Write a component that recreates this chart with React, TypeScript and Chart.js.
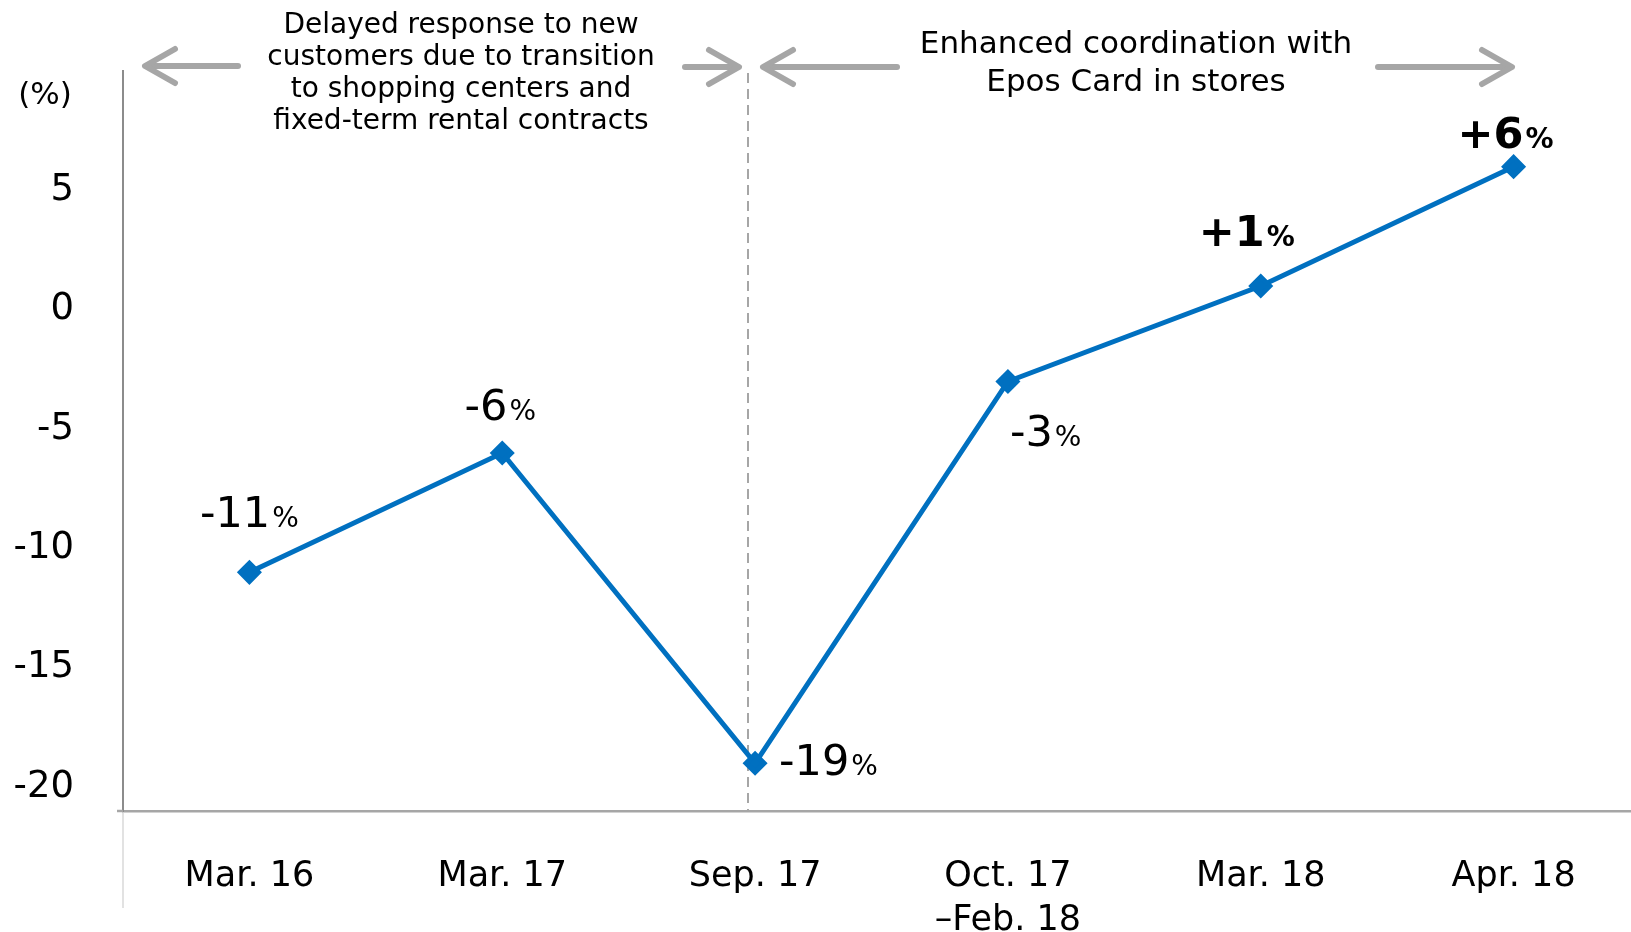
import React, { useEffect, useRef } from 'react';
import { Chart, registerables } from 'chart.js';

Chart.register(...registerables);

// ---------- data ----------
const categories: (string | string[])[] = [
  'Mar. 16',
  'Mar. 17',
  'Sep. 17',
  ['Oct. 17', '–Feb. 18'],
  'Mar. 18',
  'Apr. 18',
];
const growth: number[] = [-11, -6, -19, -3, 1, 6];
const yTicks: number[] = [-20, -15, -10, -5, 0, 5];
const unitLabel = '(%)';
const leftNote: string[] = [
  'Delayed response to new',
  'customers due to transition',
  'to shopping centers and',
  'fixed-term rental contracts',
];
const rightNote: string[] = ['Enhanced coordination with', 'Epos Card in stores'];

// ---------- styling / placement ----------
const FONT = '"DejaVu Sans", Verdana, sans-serif';
const BLUE = '#0070C0';
const GRAY = '#a6a6a6';
const labelPlacement = [
  { dx: 0, dy: -60, align: 'center' },
  { dx: -2, dy: -48, align: 'center' },
  { dx: 24, dy: -3, align: 'left' },
  { dx: 2, dy: 50, align: 'left' },
  { dx: -14, dy: -55, align: 'center' },
  { dx: -8, dy: -34, align: 'center' },
];

function drawArrow(ctx: CanvasRenderingContext2D, xFrom: number, xTip: number, y: number) {
  const dir = xTip > xFrom ? 1 : -1;
  ctx.beginPath();
  ctx.moveTo(xFrom, y);
  ctx.lineTo(xTip - dir * 3, y);
  ctx.stroke();
  ctx.beginPath();
  ctx.moveTo(xTip - dir * 30, y - 17);
  ctx.lineTo(xTip, y);
  ctx.lineTo(xTip - dir * 30, y + 17);
  ctx.stroke();
}

const annotPlugin = {
  id: 'annot',
  beforeDatasetsDraw(chart: any) {
    const ctx: CanvasRenderingContext2D = chart.ctx;
    const { left, bottom } = chart.chartArea;
    ctx.save();
    // faint extension of the y axis below the x axis
    ctx.strokeStyle = '#d9d9d9';
    ctx.lineWidth = 1.5;
    ctx.beginPath();
    ctx.moveTo(left, bottom + 2);
    ctx.lineTo(left, 908);
    ctx.stroke();
    // small stub of x axis left of y axis
    ctx.strokeStyle = GRAY;
    ctx.lineWidth = 2.5;
    ctx.beginPath();
    ctx.moveTo(117, bottom);
    ctx.lineTo(left, bottom);
    ctx.stroke();
    // dashed divider
    ctx.strokeStyle = GRAY;
    ctx.lineWidth = 2;
    ctx.setLineDash([10, 6]);
    ctx.beginPath();
    ctx.moveTo(748, 73);
    ctx.lineTo(748, bottom);
    ctx.stroke();
    ctx.setLineDash([]);
    ctx.restore();
  },
  afterDatasetsDraw(chart: any) {
    const ctx: CanvasRenderingContext2D = chart.ctx;
    ctx.save();
    // arrows
    ctx.strokeStyle = GRAY;
    ctx.lineWidth = 6;
    ctx.lineCap = 'round';
    ctx.lineJoin = 'round';
    drawArrow(ctx, 238, 145, 66);
    drawArrow(ctx, 685, 739, 67);
    drawArrow(ctx, 897, 763, 67);
    drawArrow(ctx, 1378, 1512, 67);

    // notes
    ctx.fillStyle = '#000';
    ctx.textAlign = 'center';
    ctx.textBaseline = 'middle';
    ctx.font = `28px ${FONT}`;
    leftNote.forEach((t, i) => ctx.fillText(t, 461, 26 + i * 32));
    ctx.font = `31px ${FONT}`;
    rightNote.forEach((t, i) => ctx.fillText(t, 1136, 45 + i * 38));
    ctx.font = `31px ${FONT}`;
    ctx.fillText(unitLabel, 45, 96);

    // data labels
    const meta = chart.getDatasetMeta(0);
    ctx.textBaseline = 'alphabetic';
    ctx.textAlign = 'left';
    growth.forEach((v, i) => {
      const pt = meta.data[i];
      const pl = labelPlacement[i];
      const bold = v > 0 ? 'bold ' : '';
      const num = (v > 0 ? '+' : '') + String(v);
      ctx.font = `${bold}43px ${FONT}`;
      const wNum = ctx.measureText(num).width;
      ctx.font = `${bold}28px ${FONT}`;
      const wPct = ctx.measureText('%').width;
      const total = wNum + 2 + wPct;
      const cx = pt.x + pl.dx;
      const cy = pt.y + pl.dy;
      const x0 = pl.align === 'center' ? cx - total / 2 : cx;
      const base = cy + 15;
      ctx.font = `${bold}43px ${FONT}`;
      ctx.fillText(num, x0, base);
      ctx.font = `${bold}28px ${FONT}`;
      ctx.fillText('%', x0 + wNum + 2, base);
    });
    ctx.restore();
  },
};

export default function App() {
  const ref = useRef<HTMLCanvasElement | null>(null);

  useEffect(() => {
    document.body.style.margin = '0';
    const canvas = ref.current;
    if (!canvas) return;
    const chart = new Chart(canvas, {
      type: 'line',
      data: {
        labels: categories,
        datasets: [
          {
            data: growth,
            borderColor: BLUE,
            backgroundColor: BLUE,
            borderWidth: 5,
            pointStyle: 'rectRot',
            pointRadius: 9,
            pointHoverRadius: 9,
            pointBackgroundColor: BLUE,
            pointBorderColor: BLUE,
            tension: 0,
            clip: false,
          },
        ],
      },
      options: {
        responsive: false,
        animation: false,
        devicePixelRatio: 1,
        layout: { autoPadding: false, padding: { top: 66, left: 0, right: 0, bottom: 0 } },
        plugins: {
          legend: { display: false },
          tooltip: { enabled: false },
          title: { display: false },
        },
        scales: {
          x: {
            type: 'category',
            offset: true,
            grid: { display: false, drawTicks: false },
            border: { display: true, color: GRAY, width: 2.5 },
            ticks: {
              color: '#000',
              font: { family: FONT, size: 35, lineHeight: 1.26 },
              padding: 44,
              maxRotation: 0,
              autoSkip: false,
            },
            afterFit: (s: any) => {
              s.height = 121;
            },
          },
          y: {
            type: 'linear',
            min: -21,
            max: 10,
            grid: { display: false, drawTicks: false },
            border: { display: true, color: '#8c8c8c', width: 2 },
            ticks: {
              color: '#000',
              font: { family: FONT, size: 37 },
              padding: 49,
            },
            afterBuildTicks: (s: any) => {
              s.ticks = yTicks.map((v) => ({ value: v }));
            },
            afterFit: (s: any) => {
              s.width = 123;
            },
          },
        },
      },
      plugins: [annotPlugin],
    });
    return () => chart.destroy();
  }, []);

  return (
    <div style={{ width: 1631, height: 932, overflow: 'hidden', position: 'relative' }}>
      <canvas ref={ref} width={1640} height={932} style={{ display: 'block', width: 1640, height: 932 }} />
    </div>
  );
}
